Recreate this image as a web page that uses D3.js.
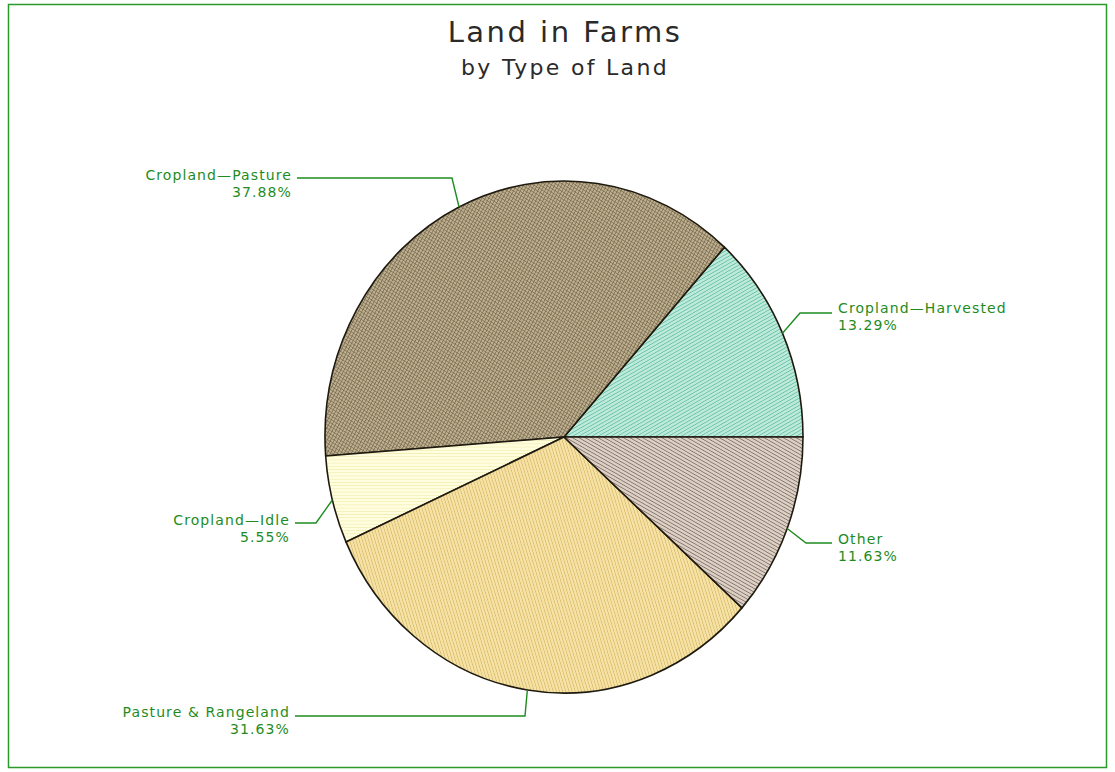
<!DOCTYPE html>
<html>
<head>
<meta charset="utf-8">
<script src="https://cdn.jsdelivr.net/npm/d3@7"></script>
<style>
  html, body { margin: 0; padding: 0; background: #fff; }
  svg { display: block; }
</style>
</head>
<body>
<svg id="chart" width="1115" height="772"></svg>
<script>
// ---- data ----
const categories = ["Cropland\u2014Harvested", "Cropland\u2014Pasture", "Cropland\u2014Idle", "Pasture & Rangeland", "Other"];
const values = [13.29, 37.88, 5.55, 31.63, 11.63];
const titleText = "Land in Farms";
const subtitleText = "by Type of Land";

// ---- styles / layout ----
const fills = [
  { base: "#bfe9da", line: "#55bd9e", angle: 62, gap: 3, cross: false },
  { base: "#bdb090", line: "#76664a", angle: 30, gap: 3, cross: true },
  { base: "#ffffe0", line: "#f0ecae", angle: 90, gap: 3, cross: false },
  { base: "#f5e2a6", line: "#d8b660", angle: -18, gap: 3, cross: false },
  { base: "#dcd0c4", line: "#74625a", angle: -62, gap: 3, cross: false }
];
const cx = 564, cy = 437, rx = 239, ry = 256;
// label layout: text anchor point, side, elbow
const labelLayout = [
  { tx: 838, ty: 313, anchor: "start", ex: 800, ey: 313 },
  { tx: 292, ty: 180, anchor: "end", ex: 452, ey: 178 },
  { tx: 290, ty: 525, anchor: "end", ex: 316, ey: 523 },
  { tx: 290, ty: 717, anchor: "end", ex: 525, ey: 716 },
  { tx: 838, ty: 544, anchor: "start", ex: 806, ey: 543 }
];
const labelColor = "#1e8c1e";

const svg = d3.select("#chart");
const defs = svg.append("defs");

fills.forEach((f, i) => {
  const p = defs.append("pattern")
    .attr("id", "pat" + i)
    .attr("patternUnits", "userSpaceOnUse")
    .attr("width", f.gap).attr("height", f.gap)
    .attr("patternTransform", `rotate(${f.angle})`);
  p.append("rect").attr("width", f.gap).attr("height", f.gap).attr("fill", f.base);
  p.append("line").attr("x1", 0).attr("y1", 0).attr("x2", 0).attr("y2", f.gap)
    .attr("stroke", f.line).attr("stroke-width", 1.3);
  if (f.cross) {
    p.append("line").attr("x1", 0).attr("y1", 0).attr("x2", f.gap).attr("y2", 0)
      .attr("stroke", f.line).attr("stroke-width", 1.1);
  }
});

// frame
svg.append("rect")
  .attr("x", 8.5).attr("y", 4.5).attr("width", 1098).attr("height", 763)
  .attr("fill", "none").attr("stroke", "#2a9a2a").attr("stroke-width", 1.5);

// titles
svg.append("text").attr("x", 565).attr("y", 42)
  .attr("text-anchor", "middle")
  .attr("font-family", "DejaVu Sans, sans-serif").attr("font-size", 29)
  .attr("letter-spacing", 2.5)
  .attr("fill", "#2a2a2a").text(titleText);
svg.append("text").attr("x", 565).attr("y", 75)
  .attr("text-anchor", "middle")
  .attr("font-family", "DejaVu Sans, sans-serif").attr("font-size", 22)
  .attr("letter-spacing", 2.3)
  .attr("fill", "#2a2a2a").text(subtitleText);

// pie
const pie = d3.pie().sort(null).value(d => d)
  .startAngle(Math.PI / 2).endAngle(Math.PI / 2 - 2 * Math.PI);
const arcs = pie(values);
const arc = d3.arc().innerRadius(0).outerRadius(rx);
const edgeArc = d3.arc().innerRadius(rx).outerRadius(rx);
const sy = ry / rx;

const g = svg.append("g").attr("transform", `translate(${cx},${cy}) scale(1,${sy})`);
g.selectAll("path.slice").data(arcs).enter().append("path")
  .attr("class", "slice")
  .attr("d", arc)
  .attr("fill", (d, i) => `url(#pat${i})`)
  .attr("stroke", "#1f1a10")
  .attr("stroke-width", 1.6)
  .attr("stroke-linejoin", "round")
  .attr("vector-effect", "non-scaling-stroke");

// labels with leaders
arcs.forEach((d, i) => {
  const c = edgeArc.centroid(d);
  const px = cx + c[0], py = cy + c[1] * sy;
  const L = labelLayout[i];
  const tx0 = L.anchor === "start" ? L.tx - 6 : L.tx + 5;
  svg.append("path")
    .attr("d", d3.line()([[px, py], [L.ex, L.ey], [tx0, L.ey]]))
    .attr("fill", "none").attr("stroke", labelColor).attr("stroke-width", 1.4);
  const t = svg.append("text")
    .attr("x", L.tx).attr("y", L.ty)
    .attr("text-anchor", L.anchor)
    .attr("font-family", "DejaVu Sans, sans-serif").attr("font-size", 14)
    .attr("letter-spacing", 1.1)
    .attr("fill", labelColor);
  t.append("tspan").attr("x", L.tx).attr("dy", 0).text(categories[i]);
  t.append("tspan").attr("x", L.tx).attr("dy", 17).text(values[i].toFixed(2) + "%");
});
</script>
</body>
</html>
